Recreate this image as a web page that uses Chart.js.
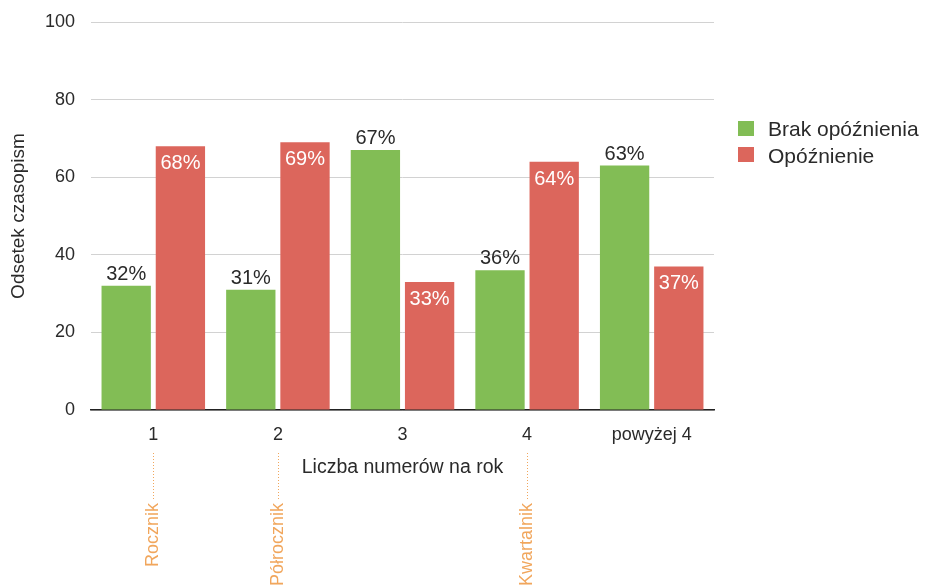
<!DOCTYPE html>
<html><head><meta charset="utf-8">
<script src="https://cdn.jsdelivr.net/npm/chart.js@4/dist/chart.umd.min.js"></script>
<style>html,body{margin:0;padding:0;background:#fff}#wrap{width:927px;height:588px}</style>
</head><body><div id="wrap"><canvas id="c" width="927" height="588"></canvas></div>
<script>
const categories = ['1', '2', '3', '4', 'powyżej 4'];
const seriesNames = ['Brak opóźnienia', 'Opóźnienie'];
const noDelay = [32, 31, 67, 36, 63];
const delay = [68, 69, 33, 64, 37];
const yTicks = [0, 20, 40, 60, 80, 100];
const annotationCategories = ['1', '2', '4'];
const annotationLabels = ['Rocznik', 'Półrocznik', 'Kwartalnik'];

const FONT = '"Liberation Sans", Arial, sans-serif';
const GREEN = '#82bd55', RED = '#dc665c', ORANGE = '#f1a65c', TEXT = '#2a2a2a';

const labelsPlugin = {
  id: 'extras',
  afterDatasetsDraw(chart) {
    const ctx = chart.ctx;
    ctx.save();
    ctx.font = '20px ' + FONT;
    ctx.textAlign = 'center';
    ctx.textBaseline = 'alphabetic';
    chart.data.datasets.forEach((ds, di) => {
      const meta = chart.getDatasetMeta(di);
      meta.data.forEach((bar, i) => {
        const txt = ds.data[i] + '%';
        if (di === 0) {
          ctx.fillStyle = TEXT;
          ctx.fillText(txt, bar.x, bar.y - 6);
        } else {
          ctx.fillStyle = '#fff';
          ctx.fillText(txt, bar.x, bar.y + 23);
        }
      });
    });
    // legend
    ctx.font = '21px ' + FONT;
    seriesNames.forEach((n, i) => {
      ctx.fillStyle = i === 0 ? GREEN : RED;
      ctx.fillRect(738, 121 + i * 26, 16, 15);
      ctx.fillStyle = TEXT;
      ctx.textAlign = 'left';
      ctx.fillText(n, 768, 136 + i * 27);
    });
    // annotations
    const xs = chart.scales.x;
    annotationCategories.forEach((c, i) => {
      const x = Math.round(xs.getPixelForValue(categories.indexOf(c))) + 0.5;
      ctx.strokeStyle = ORANGE;
      ctx.lineWidth = 1;
      ctx.setLineDash([1, 2]);
      ctx.beginPath();
      ctx.moveTo(x, 453);
      ctx.lineTo(x, 500);
      ctx.stroke();
      ctx.setLineDash([]);
      ctx.save();
      ctx.translate(x, 503);
      ctx.rotate(-Math.PI / 2);
      ctx.fillStyle = ORANGE;
      ctx.font = '18px ' + FONT;
      ctx.textAlign = 'right';
      ctx.textBaseline = 'middle';
      ctx.fillText(annotationLabels[i], 0, 0);
      ctx.restore();
    });
    ctx.restore();
  }
};

new Chart(document.getElementById('c'), {
  type: 'bar',
  data: {
    labels: categories,
    datasets: [
      { label: seriesNames[0], data: noDelay, backgroundColor: GREEN, categoryPercentage: 0.87, barPercentage: 0.91 },
      { label: seriesNames[1], data: delay, backgroundColor: RED, categoryPercentage: 0.87, barPercentage: 0.91 }
    ]
  },
  options: {
    responsive: false,
    animation: false,
    devicePixelRatio: 1,
    layout: { padding: { left: 0, right: 213, top: 22, bottom: 109 } },
    plugins: { legend: { display: false }, tooltip: { enabled: false } },
    scales: {
      x: {
        afterFit(axis) { axis.height = 69; axis.paddingLeft = 0; axis.paddingRight = 0; },
        grid: { display: false, drawTicks: false },
        border: { color: '#222', width: 1.5 },
        ticks: { color: TEXT, font: { family: FONT, size: 18 }, padding: 14 },
        title: { display: true, text: 'Liczba numerów na rok', color: TEXT, font: { family: FONT, size: 19.5 }, padding: { top: 0, bottom: 0 } }
      },
      y: {
        min: 0, max: 100,
        afterFit(axis) { axis.width = 91; axis.paddingTop = 0; axis.paddingBottom = 0; },
        afterBuildTicks(axis) { axis.ticks = yTicks.map(v => ({ value: v })); },
        grid: { color: '#d2d2d2', drawTicks: false, lineWidth: 1 },
        border: { display: false },
        ticks: { color: TEXT, font: { family: FONT, size: 18 }, padding: 16 },
        title: { display: true, text: 'Odsetek czasopism', color: TEXT, font: { family: FONT, size: 19 }, padding: { top: 7, bottom: 0 } }
      }
    }
  },
  plugins: [labelsPlugin]
});
</script></body></html>
